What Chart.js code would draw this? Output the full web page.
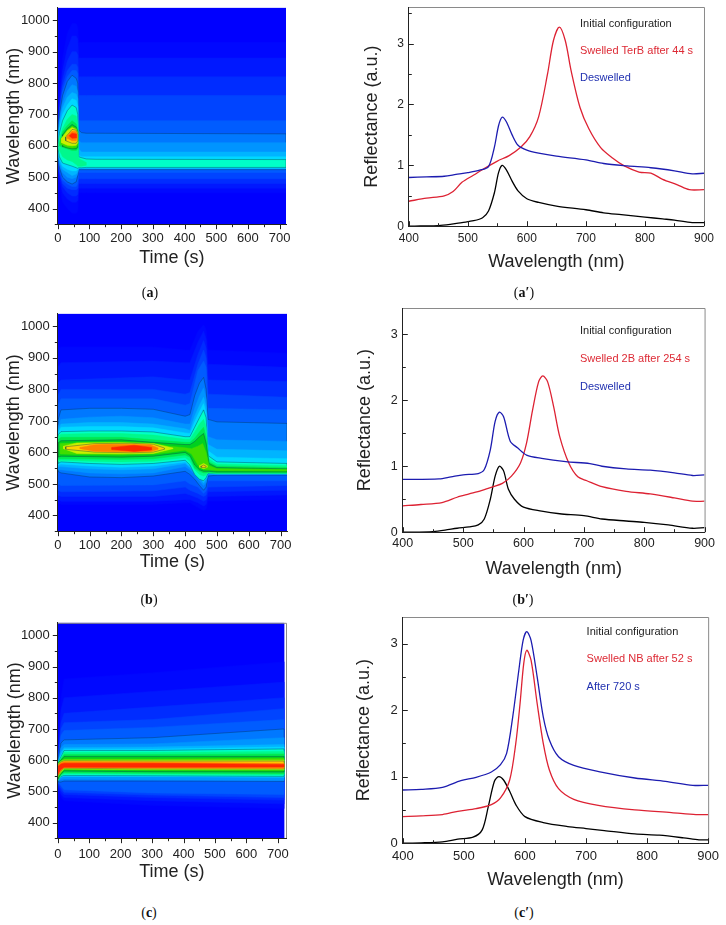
<!DOCTYPE html>
<html><head><meta charset="utf-8">
<style>
html,body{margin:0;padding:0;background:#fff;width:726px;height:925px;overflow:hidden}
canvas{position:absolute}
.cap{position:absolute;font:14px "Liberation Serif",serif;color:#111;transform:translate(-50%,-50%);white-space:nowrap}
</style>
<script src="https://cdn.jsdelivr.net/npm/chart.js@4/dist/chart.umd.min.js"></script>
</head><body>
<script>
/* ---------- contour fill colours, lowest to highest ---------- */
const heatColors=['#0000ff','#0008ff','#0018ff','#002cff','#0044ff','#005cff','#0078ff','#0094ff','#00b4ff','#00d8ff','#00ffc8','#00f88c','#00e850','#00d020','#40dd00','#c8f000','#ffd000','#ff8000','#ff2800'];
const contourLineLevels=[6,10,13,16];

/* ---------- heat map (a): contour regions ---------- */
const aT=[0,5,15,30,45,58,63,66,75,90,120,720];
const aBandLevel=[0,1,2,3,4,5,6,7,8,9,10,11,12,13,14,15,16,17,18];
const aBandT=[[0,720],aT,aT,aT,aT,aT,aT,aT,aT,aT,aT,
 [5,15,30,45,58,63,66,75,90],[5,15,30,45,58,63],[15,30,45,58,63],[10,30,45,58,63],[12,30,45,58,63],[25,45,58,63],[30,45,58,61],[38,45,58,60]];
const aBandLo=[[350,350],
 [560,480,420,400,385,385,390,450,450,450,450,450],
 [565,495,450,430,420,420,425,465,465,465,465,465],
 [570,510,470,450,440,440,445,480,480,480,480,480],
 [575,515,480,465,460,460,465,495,495,495,495,495],
 [580,525,490,478,470,470,480,515,515,515,515,515],
 [585,530,500,485,478,485,505,524,524,524,524,524],
 [590,540,515,500,495,500,512,527,527,527,527,527],
 [592,550,525,515,505,510,518,528,528,528,528,528],
 [594,560,535,525,520,520,525,529,529,529,529,529],
 [596,565,545,540,535,530,528,530,530,531,531,531],
 [585,565,555,550,540,535,535,535,538],
 [600,595,590,585,585,590],
 [598,593,590,590,595],
 [604,596,593,595,603],
 [610,602,600,602,610],
 [616,608,608,616],
 [624,616,616,625],
 [630,624,625,630]];
const aBandHi=[[1040,1040],
 [640,760,880,960,990,990,980,930,930,930,930,930],
 [630,740,840,910,950,950,940,880,880,880,880,880],
 [625,720,810,870,900,900,890,820,820,820,820,820],
 [620,710,790,840,860,860,850,760,760,760,760,760],
 [615,705,775,820,840,840,830,680,680,680,680,680],
 [610,700,760,805,825,815,800,650,642,640,640,638],
 [606,680,735,775,795,790,770,615,610,610,610,610],
 [604,670,720,755,770,765,750,590,580,580,580,580],
 [602,655,700,730,750,745,725,570,565,565,565,565],
 [600,640,680,712,730,722,700,565,562,558,557,556],
 [625,655,685,700,695,670,560,555,547],
 [610,645,665,680,670,650],
 [635,655,668,660,645],
 [622,650,662,656,642],
 [624,648,658,652,640],
 [628,652,650,636],
 [634,646,645,632],
 [634,640,638,632]];

/* ---------- heat map (b) ---------- */
const bT1=[0,10,300,400,415,440,458,466,472,720];
const bT2=[0,10,100,200,300,400,415,430,445,458,466,472,500,720];
const bT3=[0,10,200,300,400,415,430,445,458,466,475,500,720];
const bT4=[8,100,200,300,350,400,420,440,455,466,475,500,720];
const bBandLevel=[0,1,2,3,4,5,6,7,8,9,10,11,12,13,14,15,15,16,16,17,18];
const bBandT=[[0,720],bT1,bT1,bT1,bT1,bT1,bT2,bT2,bT2,bT2,bT2,bT2,bT3,bT3,bT4,
 [18,60,200,300,362],[445,458,470],[25,115,230,300,335],[450,458,466],[70,115,170,290,315],[170,240,295]];
const bBandLo=[[350,350],
 [440,435,435,440,440,425,415,420,445,450],
 [450,445,445,450,450,440,430,435,460,465],
 [465,460,460,470,465,455,445,450,475,480],
 [480,475,478,490,480,470,460,465,490,495],
 [500,495,497,510,500,490,470,478,510,510],
 [540,535,522,520,525,540,530,515,495,480,490,525,528,528],
 [545,545,535,532,535,555,545,530,510,495,505,530,530,530],
 [555,555,548,545,548,565,552,540,520,503,515,532,531,531],
 [560,563,557,553,557,570,556,535,525,508,518,533,531,532],
 [565,570,565,562,565,575,560,530,515,510,520,534,532,532],
 [572,575,572,570,572,584,572,545,530,525,528,535,533,533],
 [578,580,578,580,592,585,550,540,535,535,537,535,535],
 [585,588,585,588,600,590,560,545,540,540,540,538,538],
 [595,593,592,595,600,607,595,560,548,545,545,543,541],
 [612,597,596,597,612],[553,548,553],
 [610,601,599,601,610],[553,552,553],
 [612,604,602,602,610],
 [609,603,608]];
const bBandHi=[[1040,1040],
 [930,935,935,925,925,985,1005,990,925,915],
 [870,885,890,885,885,950,985,960,880,870],
 [820,830,840,830,830,910,955,930,830,825],
 [780,800,800,785,790,880,925,900,785,775],
 [750,770,770,750,755,860,890,870,740,735],
 [700,735,740,740,737,715,720,780,820,838,800,705,697,692],
 [680,705,712,715,710,690,690,740,780,805,770,650,640,635],
 [670,690,695,695,690,675,670,715,750,775,745,625,610,605],
 [660,680,682,682,678,662,660,697,730,755,725,605,585,580],
 [655,666,668,668,665,650,650,680,710,735,710,590,570,565],
 [650,658,660,660,655,642,642,665,690,705,680,580,563,558],
 [640,648,648,640,632,632,645,665,680,650,570,557,552],
 [630,637,640,632,625,625,635,650,660,630,565,552,548],
 [628,632,633,628,620,615,612,620,628,600,558,548,546],
 [620,630,631,628,614],[558,565,558],
 [618,628,629,626,614],[556,560,556],
 [616,624,626,624,614],
 [616,623,616]];

/* ---------- heat map (c) ---------- */
const cT=[0,10,20,300,720];
const cBandLevel=[0,1,2,3,4,5,6,7,8,9,10,11,12,13,14,15,16,17,18];
const cBandT=[[0,720],cT,cT,cT,cT,cT,cT,cT,cT,cT,cT,cT,cT,cT,cT,cT,cT,cT,cT];
const cBandLo=[[350,350],
 [510,480,470,455,445],[520,490,480,470,460],[525,500,490,480,472],[530,510,497,488,480],
 [530,518,505,495,490],[530,530,533,533,532],[535,538,540,537,535],[535,545,548,547,545],
 [535,546,549,548,546],[535,548,551,550,548],[535,550,556,555,553],[537,553,560,558,556],
 [540,556,565,563,562],[545,558,570,568,567],[548,562,572,570,570],[550,565,574,572,572],
 [553,568,576,575,574],[555,570,577,577,578]];
const cBandHi=[[1040,1040],
 [600,800,860,880,915],[590,760,800,820,850],[590,720,750,770,800],[590,700,720,730,765],
 [590,680,695,705,730],[590,655,665,672,700],[590,640,650,652,672],[590,625,640,642,650],
 [590,615,635,635,642],[590,610,631,631,636],[590,606,625,625,628],[590,603,618,618,620],
 [590,600,612,612,612],[588,598,604,604,606],[586,596,600,600,600],[584,594,598,597,597],
 [582,592,595,593,590],[580,588,590,590,586]];

/* ---------- reflectance spectra (a') ---------- */
const a1W=[400,420,450,470,490,510,525,535,545,552,558,565,575,585,600,620,650,700,730,760,800,830,850,880,900];
const a1R=[0,0.005,0.01,0.03,0.06,0.09,0.14,0.25,0.55,0.88,1.0,0.93,0.74,0.58,0.45,0.39,0.33,0.27,0.22,0.19,0.15,0.12,0.10,0.06,0.06];
const a2W=[400,430,460,475,490,510,530,550,570,590,605,620,635,645,655,665,675,690,705,725,745,765,790,810,830,855,875,900];
const a2R=[0.41,0.46,0.50,0.57,0.72,0.84,0.96,1.07,1.16,1.30,1.47,1.80,2.50,3.05,3.27,3.05,2.55,1.95,1.60,1.29,1.12,0.99,0.89,0.87,0.77,0.68,0.60,0.60];
const a3W=[400,430,460,480,500,520,535,545,552,558,565,575,585,600,620,650,700,730,770,810,850,880,900];
const a3R=[0.80,0.81,0.82,0.85,0.88,0.92,0.98,1.30,1.65,1.79,1.72,1.50,1.33,1.25,1.20,1.15,1.09,1.03,0.99,0.96,0.91,0.86,0.87];

/* ---------- reflectance spectra (b') ---------- */
const b1W=[400,450,470,490,510,525,535,545,553,560,567,575,585,600,630,660,700,730,770,800,840,880,900];
const b1R=[0,0.01,0.03,0.06,0.08,0.11,0.20,0.50,0.85,1.0,0.93,0.65,0.50,0.38,0.32,0.28,0.25,0.20,0.17,0.15,0.11,0.06,0.07];
const b2W=[400,430,465,490,510,530,550,565,580,595,605,615,625,632,640,650,660,675,690,705,730,770,810,850,880,900];
const b2R=[0.40,0.42,0.45,0.53,0.58,0.63,0.69,0.74,0.85,1.05,1.35,1.85,2.28,2.37,2.28,1.90,1.45,1.05,0.84,0.78,0.69,0.62,0.58,0.52,0.47,0.47];
const b3W=[400,460,480,500,525,535,545,553,560,567,578,590,605,630,670,710,730,770,810,850,880,900];
const b3R=[0.80,0.81,0.84,0.87,0.89,0.95,1.25,1.68,1.82,1.75,1.38,1.28,1.17,1.12,1.07,1.04,1.00,0.96,0.94,0.90,0.86,0.87];

/* ---------- reflectance spectra (c') ---------- */
const c1W=[400,430,465,490,515,530,540,550,557,565,575,585,600,630,670,700,730,780,820,860,885,900];
const c1R=[0,0.005,0.02,0.06,0.09,0.20,0.55,0.93,1.0,0.95,0.78,0.58,0.40,0.31,0.25,0.22,0.19,0.14,0.12,0.08,0.05,0.05];
const c2W=[400,430,465,490,520,545,560,575,585,592,598,603,610,620,630,640,655,680,720,780,840,880,900];
const c2R=[0.40,0.41,0.43,0.48,0.52,0.58,0.68,0.95,1.50,2.10,2.70,2.90,2.75,2.10,1.50,1.10,0.82,0.66,0.57,0.50,0.46,0.43,0.43];
const c3W=[400,430,465,495,520,545,560,570,580,590,597,603,610,620,630,640,655,680,725,780,830,875,900];
const c3R=[0.80,0.81,0.84,0.94,0.99,1.07,1.18,1.35,1.90,2.60,3.05,3.18,3.05,2.50,1.90,1.55,1.30,1.17,1.07,0.98,0.93,0.87,0.87];

/* ---------- text ---------- */
const aNotes=['Initial configuration','Swelled TerB after 44 s','Deswelled'];
const bNotes=['Initial configuration','Swelled 2B after 254 s','Deswelled'];
const cNotes=['Initial configuration','Swelled NB after 52 s','After 720 s'];
const aNoteAt=[690,3.32,2.88,2.43];
const bNoteAt=[693.6,3.05,2.62,2.21];
const cNoteAt=[701,3.18,2.77,2.35];
const noteColors=['#222222','#dd2a35','#2030b0'];
const lineColors=['#000000','#dd2233','#1c1cb0'];

function zip(xs,ys){return xs.map((x,i)=>({x:x,y:ys[i]}));}

const axisDraw={id:'axisDraw',afterDatasetsDraw(ch,a,o){
  const c=ch.ctx,ar=ch.chartArea,xs=ch.scales.x,ys=ch.scales.y,dir=o.inward?-1:1;
  c.save();
  if(o.frame){c.strokeStyle='#8a8a8a';c.lineWidth=1;c.beginPath();
    c.moveTo(ar.left,ar.top+.5);c.lineTo(ar.right+.5,ar.top+.5);c.lineTo(ar.right+.5,ar.bottom);c.stroke();}
  c.strokeStyle='#222';c.lineWidth=1;
  xs.ticks.forEach(t=>{const p=Math.round(xs.getPixelForValue(t.value))+.5,l=t.label!==''?5:3;
    c.beginPath();c.moveTo(p,ar.bottom);c.lineTo(p,ar.bottom+dir*l);c.stroke();});
  ys.ticks.forEach(t=>{const p=Math.round(ys.getPixelForValue(t.value))+.5,l=t.label!==''?5:3;
    c.beginPath();c.moveTo(ar.left,p);c.lineTo(ar.left-dir*l,p);c.stroke();});
  c.restore();
}};
const notesDraw={id:'notesDraw',afterDraw(ch,a,o){
  if(!o.texts)return;
  const c=ch.ctx;c.save();c.font=o.size+'px "Liberation Sans",Arial,sans-serif';c.textBaseline='middle';
  o.texts.forEach((s,i)=>{c.fillStyle=noteColors[i];
    c.fillText(s,ch.scales.x.getPixelForValue(o.at[0]),ch.scales.y.getPixelForValue(o.at[i+1]));});
  c.restore();
}};

function makeChart(p,datasets,plugOpts){
  const cv=document.createElement('canvas');
  const pad=14,left=p.titleX-10.8,top=p.top-pad,right=p.right+pad,bottom=p.titleY+10.8;
  cv.width=Math.round(right-left);cv.height=Math.round(bottom-top);
  cv.style.left=left+'px';cv.style.top=top+'px';
  document.body.appendChild(cv);
  const axis=(min,max,step,title,labelEvery,size,padding)=>({
    type:'linear',min,max,
    grid:{display:false,drawTicks:false},
    border:{display:true,color:'#222',width:1,z:2},
    title:{display:true,text:title,color:'#222',padding:0,font:{family:'"Liberation Sans",Arial,sans-serif',size:18,lineHeight:1.2}},
    ticks:{stepSize:step,includeBounds:false,autoSkip:false,maxRotation:0,minRotation:0,padding,color:'#222',
      font:{family:'"Liberation Sans",Arial,sans-serif',size},
      callback:v=>(Math.abs(v/labelEvery-Math.round(v/labelEvery))<1e-6)?String(v):''}
  });
  const xs=axis(p.xMin,p.xMax,p.xStep,p.xTitle,p.xEvery,p.size,p.xPad);
  const ys=axis(p.yMin,p.yMax,p.yStep,p.yTitle,p.yEvery,p.size,p.yPad);
  xs.afterFit=s=>{s.height=bottom-p.bottom;};
  ys.afterFit=s=>{s.width=p.left-left;};
  return new Chart(cv,{type:'scatter',data:{datasets},plugins:[axisDraw,notesDraw],
    options:{responsive:false,animation:false,events:[],
      layout:{padding:{top:pad,right:pad,left:0,bottom:0}},
      scales:{x:xs,y:ys},
      plugins:{legend:{display:false},tooltip:{enabled:false},title:{display:false},filler:{propagate:false},
        axisDraw:plugOpts.axis,notesDraw:plugOpts.notes||{}}}});
}

function heatSets(levels,ts,los,his){
  return levels.map((lev,i)=>{
    const pts=[...zip(ts[i],los[i]),...zip(ts[i],his[i]).reverse()];
    pts.push(pts[0]);
    const ln=contourLineLevels.includes(lev);
    return {data:pts,showLine:true,fill:'shape',backgroundColor:heatColors[lev],
      borderColor:ln?'rgba(0,50,80,0.42)':heatColors[lev],borderWidth:ln?0.9:0.5,
      pointRadius:0,tension:0,order:100-i};
  });
}
function lineSets(w1,r1,w2,r2,w3,r3){
  return [[w3,r3,2],[w2,r2,1],[w1,r1,0]].map(s=>({data:zip(s[0],s[1]),showLine:true,fill:false,
    borderColor:lineColors[s[2]],borderWidth:1.3,pointRadius:0,tension:0.3}));
}

const heatBase={xStep:50,xEvery:100,xTitle:'Time (s)',yMin:350,yMax:1040,yStep:50,yEvery:100,yTitle:'Wavelength (nm)',size:13,xMin:0,yPad:8};
const lineBase={xMin:400,xMax:900,xStep:50,xEvery:100,xTitle:'Wavelength (nm)',yMin:0,yStep:0.5,yEvery:1,yTitle:'Reflectance (a.u.)',yPad:5};

makeChart({...heatBase,left:58,right:286,top:6,bottom:224,xMax:720,xPad:6,titleX:14,titleY:258},
  heatSets(aBandLevel,aBandT,aBandLo,aBandHi),{axis:{inward:false}});
makeChart({...heatBase,left:58,right:287,top:312,bottom:531,xMax:720,xPad:6,titleX:14,titleY:562},
  heatSets(bBandLevel,bBandT,bBandLo,bBandHi),{axis:{inward:false}});
makeChart({...heatBase,left:58,right:286,top:621,bottom:838,xMax:726,xPad:8,titleX:15,titleY:872},
  heatSets(cBandLevel,cBandT,cBandLo,cBandHi),{axis:{inward:false,frame:true}});

makeChart({...lineBase,left:409,right:705,top:7,bottom:226,yMax:3.6,size:12,xPad:5,titleX:372,titleY:262},
  lineSets(a1W,a1R,a2W,a2R,a3W,a3R),{axis:{inward:true,frame:true},notes:{texts:aNotes,at:aNoteAt,size:11}});
makeChart({...lineBase,left:403,right:705,top:308,bottom:532,yMax:3.4,size:12.5,xPad:4,titleX:365,titleY:569},
  lineSets(b1W,b1R,b2W,b2R,b3W,b3R),{axis:{inward:true,frame:true},notes:{texts:bNotes,at:bNoteAt,size:11}});
makeChart({...lineBase,left:403,right:710,top:617,bottom:843,yMax:3.4,size:13,xPad:5,titleX:364,titleY:880},
  lineSets(c1W,c1R,c2W,c2R,c3W,c3R),{axis:{inward:true,frame:true},notes:{texts:cNotes,at:cNoteAt,size:11}});

/* panel captions */
[['a','',150,293],['a','\u2032',524,293],['b','',149,600],['b','\u2032',523,600],['c','',149,913],['c','\u2032',524,913]].forEach(c=>{
  const d=document.createElement('div');d.className='cap';
  d.style.left=c[2]+'px';d.style.top=c[3]+'px';
  d.innerHTML='(<b>'+c[0]+c[1]+'</b>)';
  document.body.appendChild(d);
});
</script>
</body></html>
